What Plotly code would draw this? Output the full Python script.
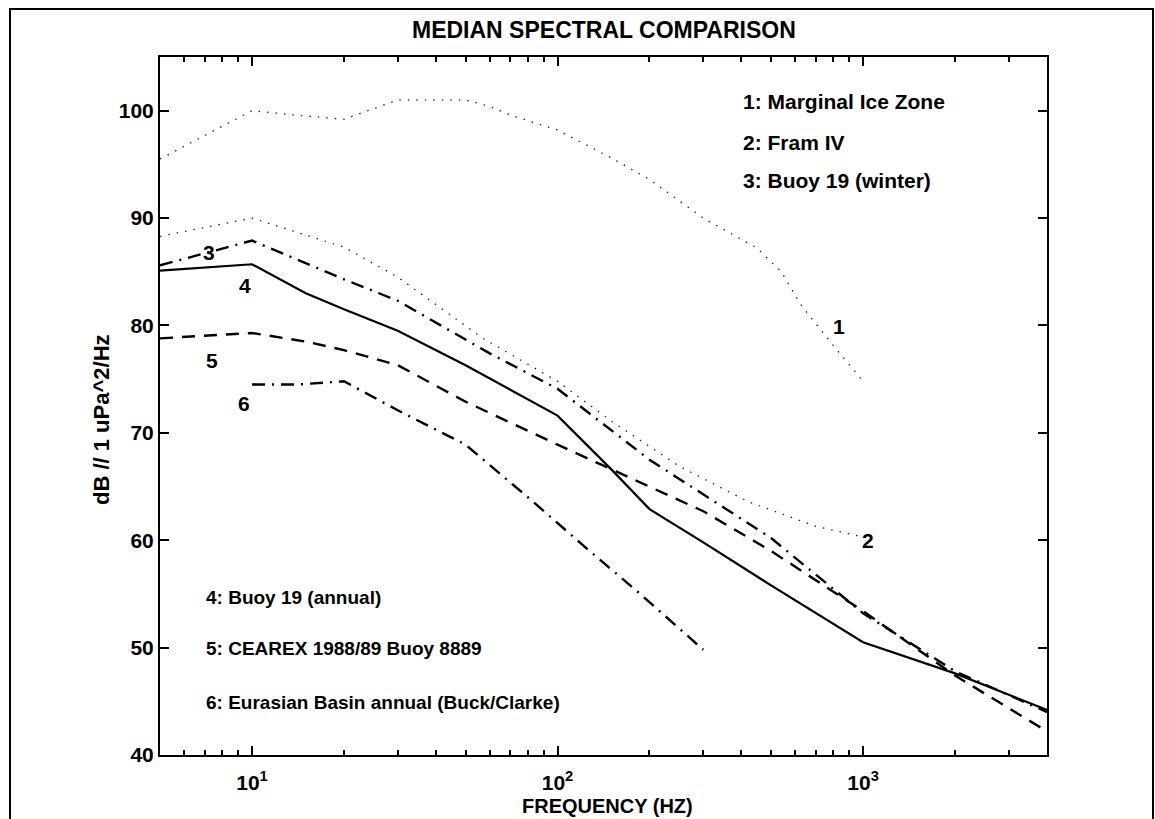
import numpy as np
import plotly.graph_objects as go

# ---- data ----
f1 = [5, 10, 15, 20, 30, 50, 60, 70, 100, 150, 200, 300, 450, 540, 630, 790, 1000]
db1 = [95.5, 100, 99.5, 99.2, 101, 101, 100.4, 99.6, 98.2, 95.6, 93.6, 90.0, 87.2, 85.0, 81.8, 78.3, 74.8]

f2 = [5, 10, 20, 30, 57, 100, 150, 250, 420, 700, 1000]
db2 = [88.3, 90, 87.3, 84.5, 78.8, 74.8, 71.1, 66.9, 63.6, 61.3, 60.3]

f3 = [5, 10, 20, 30, 60, 100, 200, 300, 500, 1000, 2000, 4000]
db3 = [85.6, 87.9, 84.3, 82.3, 77.4, 74.1, 67.5, 64.3, 60.2, 53.2, 47.8, 44.0]

f4 = [5, 10, 15, 20, 30, 50, 100, 150, 200, 300, 500, 1000, 2000, 4000]
db4 = [85.1, 85.7, 83.0, 81.5, 79.5, 76.3, 71.6, 66.6, 62.9, 59.8, 55.8, 50.5, 47.6, 44.2]

f5 = [5, 10, 15, 20, 30, 50, 100, 200, 300, 500, 1000, 2000, 4000]
db5 = [78.8, 79.3, 78.5, 77.7, 76.3, 72.9, 68.9, 65.0, 62.7, 59.0, 53.4, 47.4, 42.2]

f6 = [10, 14, 20, 30, 50, 80, 125, 183, 300]
db6 = [74.5, 74.5, 74.8, 72.1, 68.9, 64.0, 59.2, 55.2, 49.8]

legend_top = ["1: Marginal Ice Zone", "2: Fram IV", "3: Buoy 19 (winter)"]
legend_bottom = ["4: Buoy 19 (annual)", "5: CEAREX 1988/89 Buoy 8889",
                 "6: Eurasian Basin annual (Buck/Clarke)"]
curve_ids = ["1", "2", "3", "4", "5", "6"]
ytick_vals = [40, 50, 60, 70, 80, 90, 100]
xtick_vals = [10, 100, 1000]
xtick_text = ["10<sup>1</sup>", "10<sup>2</sup>", "10<sup>3</sup>"]
xminor_vals = [6, 7, 8, 9, 20, 30, 40, 50, 60, 70, 80, 90,
               200, 300, 400, 500, 600, 700, 800, 900, 2000, 3000]

# ---- layout geometry (pixels) ----
W, H = 1155, 819
L, R, T, B = 160, 1047, 57, 755
pw, ph = R - L, B - T


def px(x):
    return (x - L) / pw


def py(y):
    return (B - y) / ph


FONT = "Liberation Sans, Arial, Helvetica, sans-serif"

fig = go.Figure()
styles = [
    (f1, db1, dict(color="#222", width=1.3, dash="1.5px,7px")),
    (f2, db2, dict(color="#222", width=1.3, dash="1.5px,7px")),
    (f3, db3, dict(color="black", width=2.4, dash="13px,7px,2px,7px")),
    (f4, db4, dict(color="black", width=2.2)),
    (f5, db5, dict(color="black", width=2.4, dash="13px,9px")),
    (f6, db6, dict(color="black", width=2.4, dash="13px,7px,2px,7px")),
]
for fx, dy, ln in styles:
    fig.add_trace(go.Scatter(x=fx, y=dy, mode="lines", line=ln,
                             showlegend=False, hoverinfo="skip"))

fig.update_xaxes(
    type="log", range=[np.log10(5), np.log10(4000)],
    showline=True, linecolor="black", linewidth=2, mirror="allticks",
    ticks="inside", ticklen=9, tickwidth=1.5, tickcolor="black",
    tickmode="array", tickvals=xtick_vals,
    ticktext=["<b>" + t + "</b>" for t in xtick_text],
    tickfont=dict(family=FONT, size=21, color="black"),
    ticklabelstandoff=8,
    showgrid=False, zeroline=False,
    minor=dict(tickmode="array", tickvals=xminor_vals, ticks="inside",
               ticklen=5, tickwidth=1.5, tickcolor="black", showgrid=False),
)
fig.update_yaxes(
    range=[40, 105], tickmode="array", tickvals=ytick_vals,
    ticktext=["<b>%d</b>" % v for v in ytick_vals],
    showline=True, linecolor="black", linewidth=2, mirror="allticks",
    ticks="inside", ticklen=9, tickwidth=1.5, tickcolor="black",
    tickfont=dict(family=FONT, size=21, color="black"),
    showgrid=False, zeroline=False,
)

ann = []
# title
ann.append(dict(text="<b>MEDIAN SPECTRAL COMPARISON</b>", x=px(604), y=py(30),
                xanchor="center", yanchor="middle", font=dict(size=23)))
# axis titles
ann.append(dict(text="<b>FREQUENCY (HZ)</b>", x=px(607), y=py(806),
                xanchor="center", yanchor="middle", font=dict(size=20)))
ann.append(dict(text="<b>dB // 1 uPa^2/Hz</b>", x=px(101), y=py(420),
                xanchor="center", yanchor="middle", textangle=-90,
                font=dict(size=22)))
# legend-like texts
for i, t in enumerate(legend_top):
    ann.append(dict(text="<b>" + t + "</b>", x=px(741), y=py([102, 142, 180][i]),
                    xanchor="left", yanchor="middle", font=dict(size=21)))
for i, t in enumerate(legend_bottom):
    ann.append(dict(text="<b>" + t + "</b>", x=px(204), y=py([597, 648, 702][i]),
                    xanchor="left", yanchor="middle", font=dict(size=19)))
# curve ids
id_pos = [(839, 326), (868, 540), (209, 252), (245, 285), (212, 360), (244, 403)]
for cid, (xx, yy) in zip(curve_ids, id_pos):
    ann.append(dict(text="<b>" + cid + "</b>", x=px(xx), y=py(yy),
                    xanchor="center", yanchor="middle", font=dict(size=21)))
for a in ann:
    a.update(xref="paper", yref="paper", showarrow=False)
    a["font"].update(family=FONT, color="black")

fig.update_layout(
    width=W, height=H, autosize=False,
    margin=dict(l=L, r=W - R, t=T, b=H - B, pad=0),
    paper_bgcolor="white", plot_bgcolor="white",
    annotations=ann,
    shapes=[dict(type="rect", xref="paper", yref="paper",
                 x0=px(10), x1=px(1153), y0=py(840), y1=py(9),
                 line=dict(color="black", width=2), layer="below")],
)

fig.write_html("out.html")
